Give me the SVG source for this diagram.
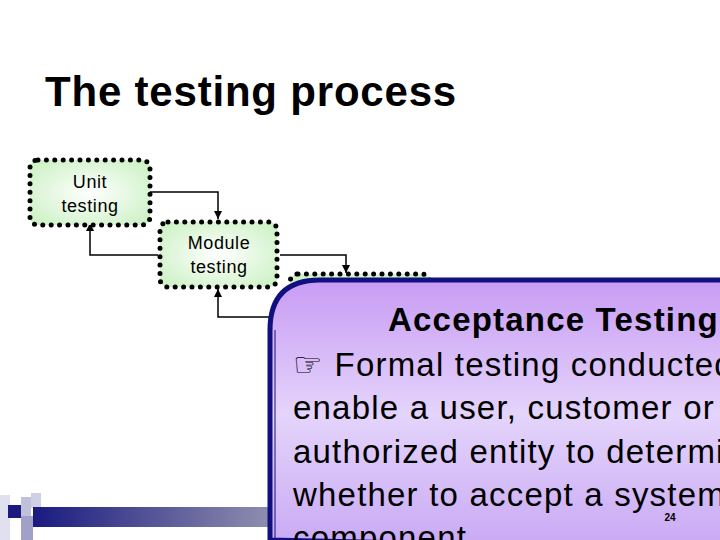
<svg xmlns="http://www.w3.org/2000/svg" width="720" height="540" viewBox="0 0 720 540">
<defs>
<radialGradient id="g" cx="0.5" cy="0.5" r="0.7"><stop offset="0" stop-color="#ffffff"/><stop offset="1" stop-color="#c8f0c0"/></radialGradient>
<linearGradient id="p" x1="0" y1="0" x2="0" y2="1"><stop offset="0" stop-color="#c89cf4"/><stop offset="0.5" stop-color="#e4d4fb"/><stop offset="1" stop-color="#c8a8f4"/></linearGradient>
<linearGradient id="bar" x1="0" y1="0" x2="1" y2="0"><stop offset="0" stop-color="#1a1a80"/><stop offset="1" stop-color="#9090b0"/></linearGradient>
<marker id="a" markerWidth="8" markerHeight="8" refX="8" refY="4" orient="auto" markerUnits="userSpaceOnUse" viewBox="0 0 8 8"><path d="M0 0 L8 4 L0 8 Z" fill="#000"/></marker>
<style>
.n{fill:url(#g);stroke:#000;stroke-width:5;stroke-dasharray:0 8.4;stroke-linecap:round}
.t{font-family:"Liberation Sans",Arial,sans-serif;font-size:18px;text-anchor:middle;letter-spacing:0.6px}
.c{fill:none;stroke:#000;stroke-width:1.5}
.b{font-family:"Liberation Sans",Arial,sans-serif;font-size:33px;letter-spacing:1.2px}
</style>
</defs>
<rect width="720" height="540" fill="#fff"/>
<text x="45" y="106" font-family="Liberation Sans,Arial,sans-serif" font-size="42" font-weight="bold" letter-spacing="0.8">The testing process</text>
<g id="bar-deco">
<rect x="0" y="495" width="10" height="45" fill="#e0e0f0"/>
<rect x="8" y="505" width="13" height="13" fill="#1a1a80"/>
<rect x="21" y="497" width="10" height="40" fill="#c0c0d8"/>
<rect x="31" y="493" width="10" height="15" fill="#d0d0e4"/>
<rect x="21" y="516" width="12" height="24" fill="#a0a0c8"/>
<rect x="33" y="507" width="240" height="20" fill="url(#bar)"/>
</g>
<g id="connectors">
<polyline class="c" points="150,192 218,192 218,219" marker-end="url(#a)"/>
<polyline class="c" points="158,255 90,255 90,223" marker-end="url(#a)"/>
<polyline class="c" points="280,255 346,255 346,273" marker-end="url(#a)"/>
<polyline class="c" points="285,317 218,317 218,289" marker-end="url(#a)"/>
</g>
<g id="unit"><rect class="n" x="30" y="160" width="120" height="65" rx="8"/><text class="t" x="90" y="188">Unit</text><text class="t" x="90" y="212">testing</text></g>
<g id="module"><rect class="n" x="160" y="222" width="117" height="65" rx="8"/><text class="t" x="219" y="249">Module</text><text class="t" x="219" y="273">testing</text></g>
<g id="subsystem"><rect class="n" x="290" y="274" width="140" height="65" rx="8"/></g>
<g id="callout">
<path d="M270 540 L270 330 Q270 280 320 280 L730 280 L730 550 Z" fill="url(#p)" stroke="#101080" stroke-width="5"/>
<line x1="275" y1="330" x2="275" y2="540" stroke="#101080" stroke-width="1"/>
<text class="b" x="388" y="331" font-weight="bold" font-size="36" letter-spacing="1.8">Acceptance Testing</text>
<text class="b" x="293" y="376">☞ Formal testing conducted to</text>
<text class="b" x="293" y="419">enable a user, customer or other</text>
<text class="b" x="293" y="463">authorized entity to determine</text>
<text class="b" x="293" y="506">whether to accept a system or</text>
<text class="b" x="293" y="549">component</text>
<text x="670" y="521" font-family="Liberation Sans,Arial,sans-serif" font-size="10" font-weight="bold" text-anchor="middle">24</text>
</g>
</svg>
